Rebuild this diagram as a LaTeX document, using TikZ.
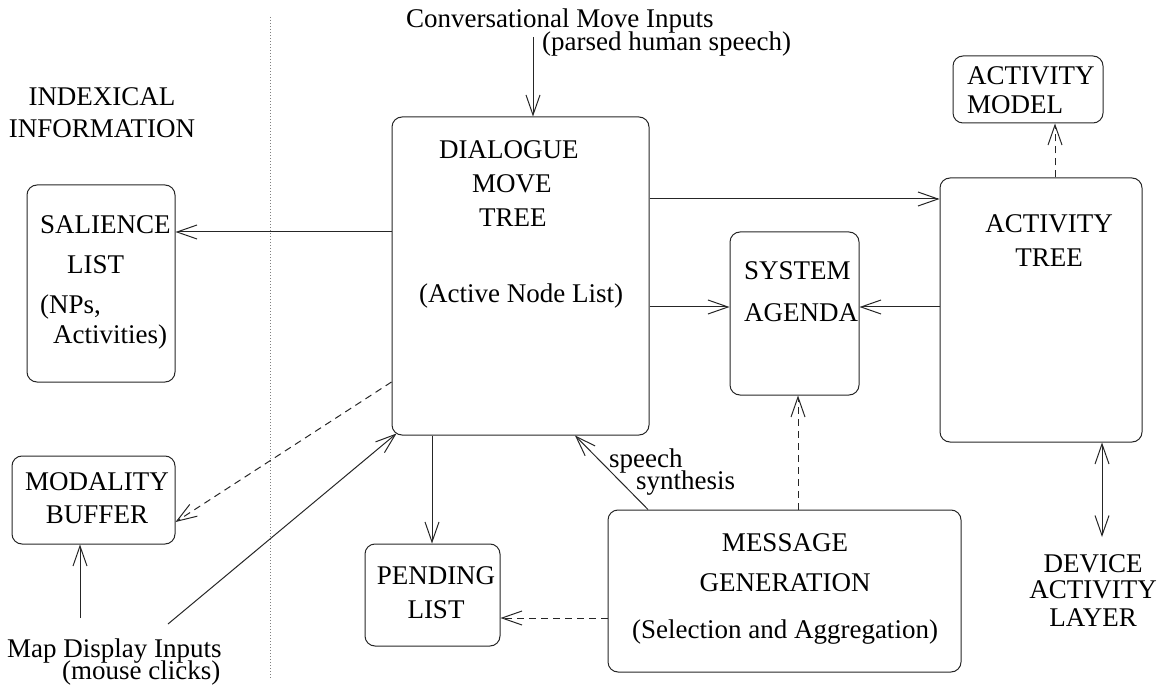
\documentclass[tikz,border=0pt]{standalone}
\usepackage{fontspec}
\setmainfont{Liberation Serif}
\usetikzlibrary{arrows.meta}
\tikzset{
  blk/.style={draw=black!85, line width=1pt, rounded corners=10pt, inner sep=0pt},
  lbl/.style={inner sep=0pt, anchor=north, align=center},
  lbll/.style={inner sep=0pt, anchor=north west, align=left},
  arr/.style={draw=black!85, line width=1pt, -{Straight Barb[length=20pt,width=14pt]}},
  darr/.style={arr, dash pattern=on 7pt off 5pt},
  barr/.style={draw=black!85, line width=1pt, {Straight Barb[length=20pt,width=14pt]}-{Straight Barb[length=20pt,width=14pt]}},
  sep/.style={draw=black!50, line width=1pt, dash pattern=on 1pt off 2pt}
}
\begin{document}
\begin{tikzpicture}[x=1pt, y=-1pt, font=\fontsize{27}{27}\selectfont]
\useasboundingbox (0,0) rectangle (1158,692);
\draw[sep] (270,17) -- (270,678);
\node[blk, minimum width=148pt, minimum height=197pt] (sal) at (101,283.5) {};
\node[blk, minimum width=163pt, minimum height=88pt] (mod) at (93.5,500) {};
\node[blk, minimum width=257pt, minimum height=318pt] (dmt) at (520.5,276) {};
\node[blk, minimum width=129pt, minimum height=163pt] (agd) at (794.5,313.5) {};
\node[blk, minimum width=202pt, minimum height=264pt] (act) at (1041,310) {};
\node[blk, minimum width=150pt, minimum height=67pt] (mdl) at (1028,89.5) {};
\node[blk, minimum width=135pt, minimum height=102pt] (pend) at (432.5,595) {};
\node[blk, minimum width=353pt, minimum height=162pt] (msg) at (784.5,591) {};
\node[lbl] (idx) at (102,87) {INDEXICAL\\[5pt]INFORMATION};
\node[lbll] (saltxt) at (40,215) {SALIENCE\\[13pt]\hspace{27pt}LIST\\[13pt](NPs,\\[3pt]\hspace{13pt}Activities)};
\node[lbl] (modtxt) at (97,472) {MODALITY\\[6pt]BUFFER};
\node[lbll] (dmttxt) at (419,140) {\hspace{20pt}DIALOGUE\\[7pt]\hspace{53pt}MOVE\\[7pt]\hspace{60pt}TREE\\[49pt](Active Node List)};
\node[lbll] (agdtxt) at (744,261) {SYSTEM\\[15pt]AGENDA};
\node[lbl] (acttxt) at (1049,214) {ACTIVITY\\[7pt]TREE};
\node[lbll] (mdltxt) at (967,66) {ACTIVITY\\[2pt]MODEL};
\node[lbl] (pendtxt) at (436,566) {PENDING\\[7pt]LIST};
\node[lbl] (msgtxt) at (785,533) {MESSAGE\\[13pt]GENERATION\\[20pt](Selection and Aggregation)};
\node[lbl] (dal) at (1093,554) {DEVICE\\[-1pt]ACTIVITY\\[1pt]LAYER};
\node[lbll] (cmi) at (406,9) {Conversational Move Inputs\\[-4pt]\hspace{136pt}(parsed human speech)};
\node[lbll] (spch) at (609,449) {speech\\[-5pt]\hspace{27pt}synthesis};
\node[lbll] (map) at (7,639) {Map Display Inputs\\[-5pt]\hspace{55pt}(mouse clicks)};
\coordinate (cmiout) at (533,37);
\coordinate (mapup) at (80,618);
\coordinate (mapin) at (168,624);
\coordinate (dalin) at (1102,537);
\draw[arr] (cmiout) -- (cmiout |- dmt.north);
\draw[arr] (dmt.west |- 0,232) -- (sal.east |- 0,232);
\draw[arr] (dmt.east |- 0,199) -- (act.west |- 0,199);
\draw[arr] (dmt.east |- 0,307) -- (agd.west |- 0,307);
\draw[arr] (act.west |- 0,307) -- (agd.east |- 0,307);
\draw[darr] (act.north -| 1055,0) -- (mdl.south -| 1055,0);
\draw[barr] (act.south -| dalin) -- (dalin);
\draw[darr] (msg.north -| 798,0) -- (agd.south -| 798,0);
\draw[darr] (msg.west |- 0,618) -- (pend.east |- 0,618);
\draw[arr] (dmt.south -| 432,0) -- (pend.north -| 432,0);
\draw[arr] (msg.north -| 648,0) -- (dmt.south -| 575,0);
\draw[darr] (dmt.west |- 0,382) -- (mod.east |- 0,522);
\draw[arr] (mapup) -- (mapup |- mod.south);
\draw[arr] (mapin) -- ([shift={(5pt,2pt)}]dmt.south west);
\end{tikzpicture}
\end{document}
